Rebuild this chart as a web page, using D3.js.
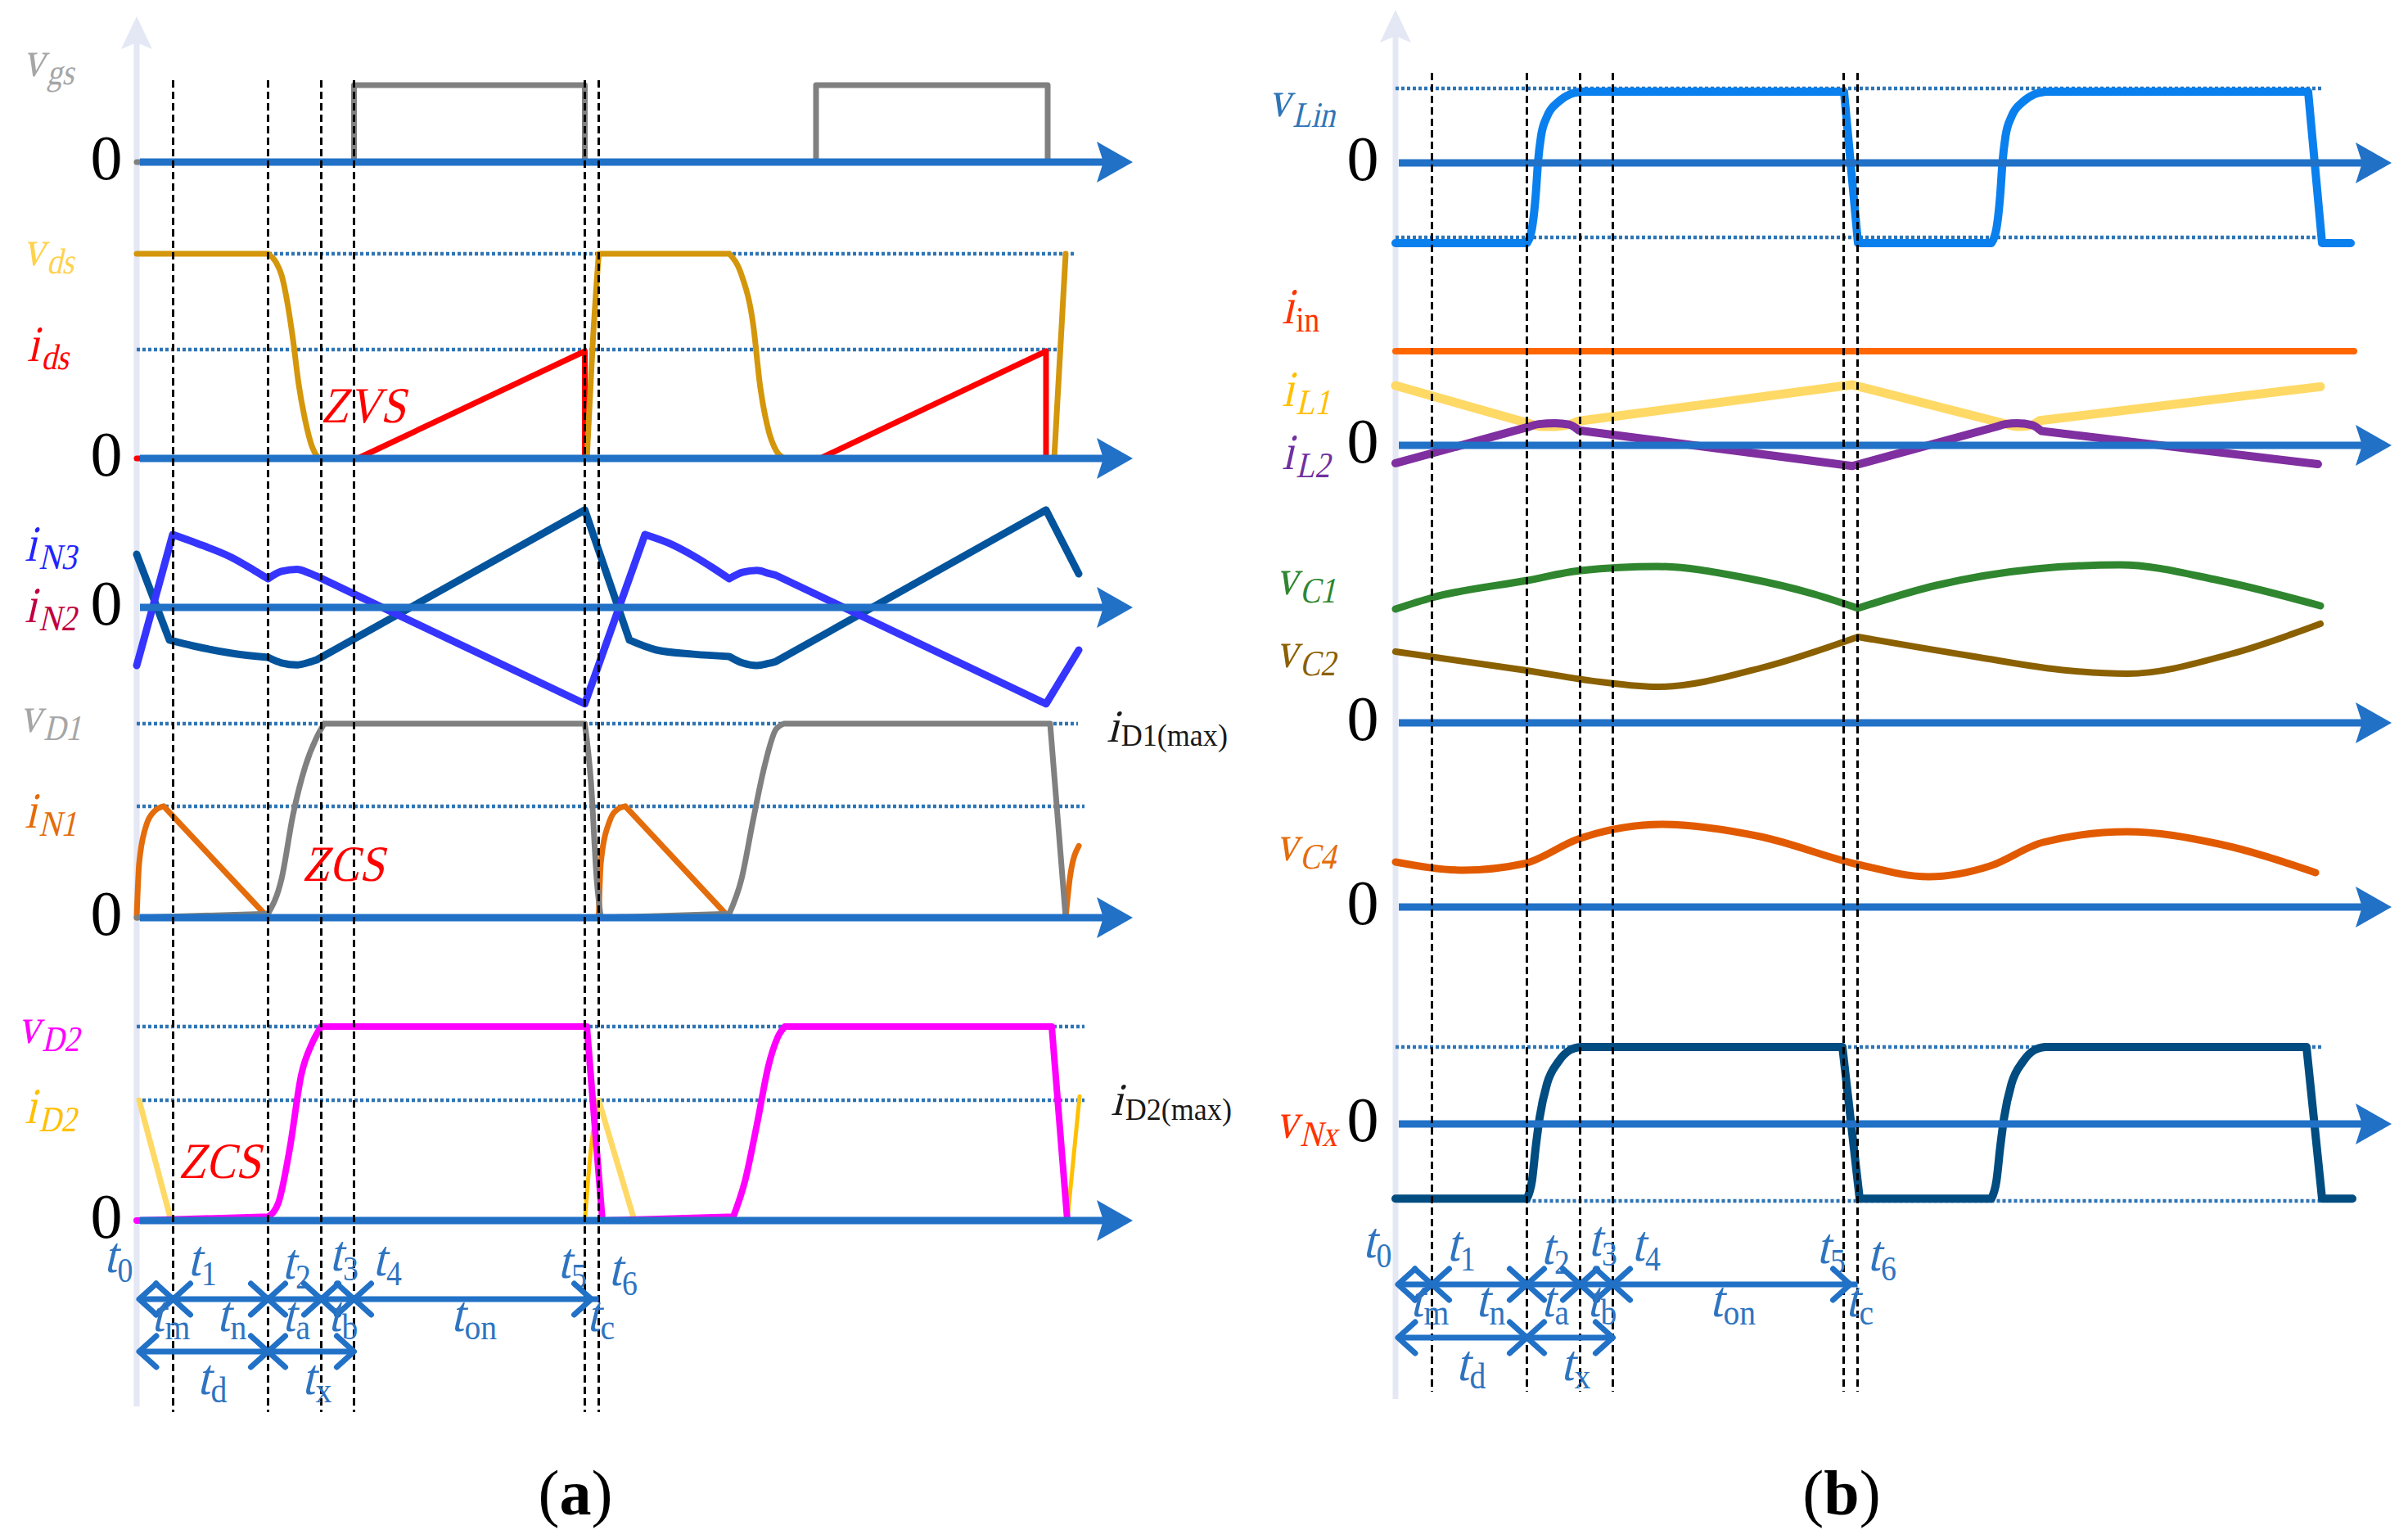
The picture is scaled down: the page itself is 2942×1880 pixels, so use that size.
<!DOCTYPE html>
<html>
<head>
<meta charset='utf-8'>
<style>
body { margin: 0; background: #fff; }
text { font-family: 'Liberation Serif', 'Times New Roman', serif; }
.wave { fill: none; stroke-linecap: round; stroke-linejoin: round; }
</style>
<script src='https://d3js.org/d3.v7.min.js'></script>
</head>
<body>
<svg id='chart' width='2942' height='1880'></svg>
<script>
// switching instants t0..t6 (same time base for both panels)
var T = [0, 0.445, 1.605, 2.255, 2.655, 5.475, 5.645];
var tickNames = ['0', '1', '2', '3', '4', '5', '6'];
var spanRow1 = ['m', 'n', 'a', 'b', 'on', 'c'];
var spanRow2 = ['d', 'x'];
var namesA = [['v', 'gs'], ['v', 'ds'], ['i', 'ds'], ['i', 'N3'], ['i', 'N2'], ['v', 'D1'], ['i', 'N1'], ['v', 'D2'], ['i', 'D2']];
var namesB = [['v', 'Lin'], ['i', 'in'], ['i', 'L1'], ['i', 'L2'], ['v', 'C1'], ['v', 'C2'], ['v', 'C4'], ['v', 'Nx']];
var maxNames = [['i', 'D1(max)'], ['i', 'D2(max)']];
var notes = ['ZVS', 'ZCS', 'ZCS'];
var titles = ['a', 'b'];

// ---- panel (a) waveforms: [time, normalised value], split at corners
var vgs = [[[0,0],[2.655,0],[2.655,1],[5.475,1],[5.475,0],[8.30,0],[8.30,1],[11.13,1],[11.13,0],[11.45,0]]];
var vds = [
  [[0,1.0],[1.605,1.0]],
  [[1.605,1.0],[1.70,0.96],[1.77,0.896],[1.85,0.74],[1.91,0.58],[1.98,0.36],[2.06,0.184],[2.14,0.06],[2.22,0]],
  [[2.22,0],[5.50,0]],
  [[5.50,0],[5.57,0.55],[5.645,1.0]],
  [[5.645,1.0],[7.24,1.0]],
  [[7.24,1.0],[7.39,0.896],[7.53,0.66],[7.62,0.344],[7.72,0.136],[7.81,0.04],[7.91,0]],
  [[7.91,0],[11.21,0]],
  [[11.21,0],[11.28,0.5],[11.35,1.0]]
];
var ids = [[[0,0],[2.70,0],[5.475,0.524]], [[5.475,0.524],[5.475,0]], [[5.475,0],[8.35,0],[11.11,0.524]], [[11.11,0.524],[11.11,0]], [[11.11,0],[11.45,0]]];
var iN3 = [
  [[0,-0.597],[0.44,0.748]],
  [[0.44,0.748],[0.73,0.66],[1.16,0.513],[1.44,0.378],[1.605,0.294]],
  [[1.605,0.294],[1.77,0.37],[1.96,0.39],[2.10,0.355],[2.20,0.32]],
  [[2.20,0.32],[5.475,-0.99]],
  [[5.475,-0.99],[6.21,0.748]],
  [[6.21,0.748],[6.50,0.66],[6.82,0.52],[7.05,0.40],[7.24,0.294]],
  [[7.24,0.294],[7.40,0.36],[7.58,0.38],[7.72,0.35],[7.81,0.33]],
  [[7.81,0.33],[11.11,-0.99]],
  [[11.11,-0.99],[11.51,-0.437]]
];
var iN2 = [
  [[0,0.546],[0.40,-0.336]],
  [[0.40,-0.336],[0.69,-0.395],[1.16,-0.47],[1.605,-0.513]],
  [[1.605,-0.513],[1.77,-0.57],[1.96,-0.59],[2.10,-0.565],[2.20,-0.538]],
  [[2.20,-0.538],[5.475,1.0]],
  [[5.475,1.0],[6.02,-0.336]],
  [[6.02,-0.336],[6.35,-0.437],[6.80,-0.48],[7.24,-0.504]],
  [[7.24,-0.504],[7.40,-0.57],[7.58,-0.597],[7.72,-0.575],[7.81,-0.555]],
  [[7.81,-0.555],[11.11,1.0]],
  [[11.11,1.0],[11.51,0.345]]
];
var vD1 = [
  [[0,0],[1.605,0.02]],
  [[1.605,0.02],[1.77,0.2],[1.91,0.53],[2.06,0.78],[2.20,0.93],[2.29,1.0]],
  [[2.29,1.0],[5.475,1.0]],
  [[5.475,1.0],[5.55,0.70],[5.62,0.2],[5.67,0]],
  [[5.67,0],[7.24,0.02]],
  [[7.24,0.02],[7.39,0.2],[7.53,0.5],[7.67,0.78],[7.81,0.97],[7.91,1.0]],
  [[7.91,1.0],[11.16,1.0]],
  [[11.16,1.0],[11.35,0]],
  [[11.35,0],[11.50,0]]
];
var iN1 = [
  [[0,0],[0.03,0.28],[0.12,0.48],[0.22,0.55],[0.33,0.574]],
  [[0.33,0.574],[1.605,0]],
  [[1.605,0],[5.645,0]],
  [[5.645,0],[5.67,0.28],[5.78,0.50],[5.88,0.56],[5.97,0.574]],
  [[5.97,0.574],[7.24,0]],
  [[7.24,0],[11.35,0]],
  [[11.35,0],[11.40,0.2],[11.51,0.37]]
];
var vD2 = [
  [[0,0],[1.605,0.02]],
  [[1.605,0.02],[1.73,0.09],[1.87,0.37],[2.01,0.75],[2.15,0.92],[2.255,1.0]],
  [[2.255,1.0],[5.50,1.0]],
  [[5.50,1.0],[5.69,0]],
  [[5.69,0],[7.29,0.02]],
  [[7.29,0.02],[7.43,0.2],[7.58,0.5],[7.72,0.8],[7.85,0.96],[7.92,1.0]],
  [[7.92,1.0],[11.18,1.0]],
  [[11.18,1.0],[11.37,0]],
  [[11.37,0],[11.61,0]]
];
var iD2fall = [[[0.03,0.62],[0.42,0]], [[5.645,0.62],[6.08,0]]];
var iD2rise = [[[0.42,0],[5.475,0]], [[5.475,0],[5.56,0.41],[5.645,0.62]], [[6.08,0],[11.37,0]], [[11.37,0],[11.52,0.64]]];

// ---- panel (b) waveforms
var vLin = [
  [[0,-1.077],[1.605,-1.077]],
  [[1.605,-1.077],[1.667,-0.88],[1.713,-0.43],[1.74,0],[1.778,0.36],[1.85,0.62],[1.99,0.82],[2.13,0.92],[2.26,0.956]],
  [[2.26,0.956],[5.48,0.956]],
  [[5.48,0.956],[5.65,-1.077]],
  [[5.65,-1.077],[7.28,-1.077]],
  [[7.28,-1.077],[7.342,-0.88],[7.388,-0.43],[7.415,0],[7.453,0.36],[7.525,0.62],[7.665,0.82],[7.805,0.92],[7.935,0.956]],
  [[7.935,0.956],[11.15,0.956]],
  [[11.15,0.956],[11.32,-1.077]],
  [[11.32,-1.077],[11.67,-1.077]]
];
var iin = [[[0,1],[11.71,1]]];
var iL1 = [
  [[0,0.635],[1.62,0.235]],
  [[1.62,0.235],[1.78,0.20],[1.95,0.20],[2.12,0.22],[2.23,0.256]],
  [[2.23,0.256],[5.58,0.643]],
  [[5.58,0.643],[7.45,0.228]],
  [[7.45,0.228],[7.60,0.20],[7.75,0.21],[7.87,0.263]],
  [[7.87,0.263],[11.30,0.623]]
];
var iL2 = [
  [[0,-0.19],[1.62,0.194]],
  [[1.62,0.194],[1.75,0.225],[1.95,0.235],[2.12,0.22],[2.24,0.159]],
  [[2.24,0.159],[5.58,-0.22]],
  [[5.58,-0.22],[7.35,0.20]],
  [[7.35,0.20],[7.45,0.225],[7.59,0.235],[7.78,0.215],[7.89,0.152]],
  [[7.89,0.152],[11.27,-0.20]]
];
var vC1 = [
  [[0,0.695],[0.45,0.765],[1.61,0.87],[2.26,0.93],[3.2,0.955],[4.28,0.885],[5.12,0.785],[5.65,0.70]],
  [[5.65,0.70],[6.61,0.84],[7.82,0.94],[8.85,0.965],[10.06,0.87],[11.30,0.715]]
];
var vC2 = [
  [[0,0.435],[1.6,0.32],[2.5,0.25],[3.2,0.22],[4.5,0.34],[5.65,0.525]],
  [[5.65,0.525],[7.07,0.405],[8.2,0.32],[8.94,0.30],[10.2,0.42],[11.30,0.605]]
];
var vC4 = [
  [[0,0.55],[0.83,0.45],[1.57,0.53],[2.23,0.83],[3.25,1.01],[4.46,0.86],[5.65,0.52],[6.51,0.37],[7.26,0.5],[7.91,0.79],[8.94,0.92],[10.06,0.77],[11.24,0.42]]
];
var vNx = [
  [[0,-0.97],[1.605,-0.97]],
  [[1.605,-0.97],[1.667,-0.74],[1.713,-0.30],[1.76,0.08],[1.85,0.52],[1.99,0.81],[2.13,0.96],[2.26,1.0]],
  [[2.26,1.0],[5.46,1.0]],
  [[5.46,1.0],[5.67,-0.97]],
  [[5.67,-0.97],[7.28,-0.97]],
  [[7.28,-0.97],[7.342,-0.74],[7.388,-0.30],[7.435,0.08],[7.525,0.52],[7.665,0.81],[7.805,0.96],[7.935,1.0]],
  [[7.935,1.0],[11.13,1.0]],
  [[11.13,1.0],[11.32,-0.97]],
  [[11.32,-0.97],[11.69,-0.97]]
];

var axisBlue = '#2171c7', dotBlue = '#2e75b6', tBlue = '#2e74c0', yAxisCol = '#e4e7f4';
var svg = d3.select('#chart');
svg.append('rect').attr('width', 2942).attr('height', 1880).attr('fill', '#fff');

var xa = d3.scaleLinear().domain([0, 12.2]).range([167, 1387]);
var xb = d3.scaleLinear().domain([0, 12.2]).range([1705, 2925]);

var yVgs = d3.scaleLinear().domain([0, 1]).range([198, 104]);
var yVds = d3.scaleLinear().domain([0, 1]).range([560, 310]);
var yIN = d3.scaleLinear().domain([-1, 1]).range([861, 623]);
var yVD1 = d3.scaleLinear().domain([0, 1]).range([1121, 884]);
var yVD2 = d3.scaleLinear().domain([0, 1]).range([1491, 1254]);
var yLin = d3.scaleLinear().domain([-1, 1]).range([290, 108]);
var yIL = d3.scaleLinear().domain([0, 1]).range([544, 429]);
var yVC = d3.scaleLinear().domain([0, 1]).range([883, 683]);
var yVC4 = d3.scaleLinear().domain([0, 1]).range([1108, 1008]);
var yNx = d3.scaleLinear().domain([-1, 1]).range([1467, 1279]);

// light vertical axes
function yAxis(x, top, bottom) {
  var x0 = x(0);
  svg.append('line').attr('x1', x0).attr('x2', x0).attr('y1', top + 30).attr('y2', bottom)
    .attr('stroke', yAxisCol).attr('stroke-width', 7);
  svg.append('path').attr('d', 'M' + x0 + ',' + top + ' L' + (x0 + 19) + ',' + (top + 40) +
      ' L' + x0 + ',' + (top + 32) + ' L' + (x0 - 19) + ',' + (top + 40) + ' Z')
    .attr('fill', yAxisCol);
}
yAxis(xa, 20, 1718);
yAxis(xb, 12, 1709);

function dotted(x, yv, t0, t1) {
  svg.append('line').attr('x1', x(t0)).attr('x2', x(t1)).attr('y1', yv).attr('y2', yv)
    .attr('stroke', dotBlue).attr('stroke-width', 4.5).attr('stroke-dasharray', '4,3');
}
dotted(xa, yVds(1), 0, 11.47);
dotted(xa, yVds(0.532), 0, 11.28);
dotted(xa, yVD1(1), 0, 11.5);
dotted(xa, yVD1(0.574), 0, 11.58);
dotted(xa, yVD2(1), 0, 11.58);
dotted(xa, yVD2(0.62), 0, 11.58);
dotted(xb, yLin(1), 0, 11.32);
dotted(xb, yLin(-1), 0, 11.32);
dotted(xb, yNx(1), 0, 11.32);
dotted(xb, yNx(-1), 1.605, 11.32);

function wave(x, y, segs, color, w, curve) {
  var line = d3.line().x(function(d) { return x(d[0]); }).y(function(d) { return y(d[1]); })
    .curve(curve || d3.curveMonotoneX);
  svg.append('path').attr('class', 'wave').attr('d', segs.map(line).join(''))
    .attr('stroke', color).attr('stroke-width', w);
}

wave(xa, yVgs, vgs, '#808080', 7, d3.curveLinear);
wave(xa, yVds, ids, '#ff0000', 7, d3.curveLinear);
wave(xa, yVds, vds, '#d4960a', 7);
wave(xa, yIN, iN2, '#03549c', 9);
wave(xa, yIN, iN3, '#3535ff', 9);
wave(xa, yVD1, iN1, '#e46c0a', 7);
wave(xa, yVD1, vD1, '#808080', 7);
wave(xa, yVD2, iD2rise, '#ffc000', 5);
wave(xa, yVD2, iD2fall, '#ffd966', 7);
wave(xa, yVD2, vD2, '#ff00ff', 8);

wave(xb, yLin, vLin, '#0a80ee', 10);
wave(xb, yIL, iin, '#ff6600', 8, d3.curveLinear);
wave(xb, yIL, iL1, '#ffd966', 11);
wave(xb, yIL, iL2, '#7f2fa0', 10);
wave(xb, yVC, vC1, '#2f862f', 9);
wave(xb, yVC, vC2, '#8a6000', 8);
wave(xb, yVC4, vC4, '#e25a00', 9);
wave(xb, yNx, vNx, '#014c80', 10);

// horizontal zero axes with arrow heads
function hAxis(x, yv) {
  var x0 = x.range()[0], x1 = x.range()[1] - 3;
  svg.append('line').attr('x1', x0 + 4).attr('x2', x1 - 30).attr('y1', yv).attr('y2', yv)
    .attr('stroke', axisBlue).attr('stroke-width', 9);
  svg.append('path').attr('d', 'M' + x1 + ',' + yv + ' L' + (x1 - 44) + ',' + (yv - 25) +
      ' L' + (x1 - 36) + ',' + yv + ' L' + (x1 - 44) + ',' + (yv + 25) + ' Z')
    .attr('fill', axisBlue);
}
[yVgs(0), yVds(0), yIN(0), yVD1(0), yVD2(0)].forEach(function(v) { hAxis(xa, v); });
[yLin(0), yIL(0), yVC(0), yVC4(0), yNx(0)].forEach(function(v) { hAxis(xb, v); });

// dashed instants t1..t6
function dashes(x, top, bottom) {
  T.slice(1).forEach(function(t) {
    svg.append('line').attr('x1', x(t)).attr('x2', x(t)).attr('y1', top).attr('y2', bottom)
      .attr('stroke', '#000').attr('stroke-width', 3).attr('stroke-dasharray', '9,5');
  });
}
dashes(xa, 98, 1725);
dashes(xb, 89, 1700);

// labels: upright serif glyphs slanted by hand (no serif italic face available)
var SLANT = 'skewX(-15)';
function lab(x, y, pair, color, o) {
  o = o || {};
  var g = svg.append('g').attr('transform', 'translate(' + x + ',' + y + ') scale(' + (o.sx || 0.85) + ',1)')
    .attr('fill', color);
  var m = g.append('text').attr('font-size', o.fs || 62).attr('transform', SLANT).text(pair[0]);
  if (pair[1]) {
    var w = m.node().getComputedTextLength() + (o.gap === undefined ? 3 : o.gap);
    g.append('text').attr('font-size', o.ss || 44)
      .attr('transform', 'translate(' + w + ',' + (o.dy || 10) + ')' + (o.up ? '' : ' ' + SLANT))
      .text(pair[1]);
  }
}
lab(28, 93, namesA[0], '#a6a6a6');
lab(28, 324, namesA[1], '#ffd24d');
lab(33, 441, namesA[2], '#ff0000');
lab(30, 685, namesA[3], '#2323ff');
lab(30, 760, namesA[4], '#c00040');
lab(24, 894, namesA[5], '#a6a6a6');
lab(30, 1011, namesA[6], '#e46c0a');
lab(22, 1274, namesA[7], '#ff00ff');
lab(30, 1372, namesA[8], '#ffc000');
lab(1352, 906, maxNames[0], '#1a1a1a', {fs: 56, ss: 38, dy: 5, up: true, sx: 0.95});
lab(1357, 1362, maxNames[1], '#1a1a1a', {fs: 56, ss: 38, dy: 6, up: true, sx: 0.95});

lab(1550, 142, namesB[0], '#2e75b6', {dy: 13});
lab(1566, 395, namesB[1], '#ff3300', {up: true});
lab(1566, 496, namesB[2], '#ffc000');
lab(1566, 573, namesB[3], '#7030a0');
lab(1559, 726, namesB[4], '#2f862f');
lab(1559, 815, namesB[5], '#8a6000');
lab(1559, 1051, namesB[6], '#e46c0a');
lab(1559, 1390, namesB[7], '#ff3300');

function note(x, y, s) {
  svg.append('text').attr('transform', 'translate(' + x + ',' + y + ') scale(0.88,1) ' + SLANT)
    .attr('fill', '#ff0000').attr('font-size', 62).text(s);
}
note(392, 516, notes[0]);
note(369, 1076, notes[1]);
note(218, 1439, notes[2]);

function zero(xc, yv) {
  svg.append('text').attr('x', xc).attr('y', yv + 21).attr('text-anchor', 'middle')
    .attr('font-size', 78).attr('fill', '#000').text('0');
}
[yVgs(0), yVds(0), yIN(0), yVD1(0), yVD2(0)].forEach(function(v) { zero(130, v); });
[yLin(0), yIL(0), yVC(0), yVC4(0), yNx(0)].forEach(function(v) { zero(1665, v); });

// time marks and interval arrows
var tickDx = [-40, 18, 17, 10, 23, -33, 12];
var tickDy = [-37, -33, -29, -39, -33, -30, -21];
var span1At = [0.18, 0.98, 1.78, 2.34, 3.84, 5.50];
var span2At = [0.74, 2.02];

function chev(x, y, dir) {
  svg.append('path').attr('d', 'M' + (x - dir * 21) + ',' + (y - 19) + ' L' + x + ',' + y + ' L' + (x - dir * 21) + ',' + (y + 19))
    .attr('fill', 'none').attr('stroke', axisBlue).attr('stroke-width', 7).attr('stroke-linecap', 'round')
    .attr('stroke-linejoin', 'round');
}
function timeRows(x, r1, r2) {
  T.forEach(function(t, i) {
    lab(x(t) + tickDx[i], r1 + tickDy[i] + 4, ['t', tickNames[i]], tBlue, {ss: 42, dy: 12, up: true, sx: 0.9, gap: 1});
  });
  svg.append('line').attr('x1', x(T[0]) + 3).attr('x2', x(T[6])).attr('y1', r1).attr('y2', r1)
    .attr('stroke', axisBlue).attr('stroke-width', 7);
  chev(x(T[0]) + 3, r1, -1);
  [1, 2, 3, 4].forEach(function(i) { chev(x(T[i]), r1, 1); chev(x(T[i]), r1, -1); });
  chev(x(T[5]) + 8, r1, 1);
  spanRow1.forEach(function(s, i) {
    lab(x(span1At[i]), r1 + 39, ['t', s], tBlue, {ss: 44, dy: 10, up: true, sx: 0.9, gap: 1});
  });
  svg.append('line').attr('x1', x(T[0]) + 3).attr('x2', x(T[4])).attr('y1', r2).attr('y2', r2)
    .attr('stroke', axisBlue).attr('stroke-width', 7);
  chev(x(T[0]) + 3, r2, -1);
  chev(x(T[2]), r2, 1); chev(x(T[2]), r2, -1);
  chev(x(T[4]), r2, 1);
  spanRow2.forEach(function(s, i) {
    lab(x(span2At[i]), r2 + 52, ['t', s], tBlue, {ss: 44, dy: 10, up: true, sx: 0.9, gap: 1});
  });
}
timeRows(xa, 1587, 1651);
timeRows(xb, 1569, 1634);

function title(xc, s) {
  var t = svg.append('text').attr('x', xc).attr('y', 1850).attr('text-anchor', 'middle')
    .attr('font-size', 78).attr('fill', '#000');
  t.append('tspan').text('(');
  t.append('tspan').attr('font-weight', 'bold').text(s);
  t.append('tspan').text(')');
}
title(703, titles[0]);
title(2250, titles[1]);
</script>
</body>
</html>
